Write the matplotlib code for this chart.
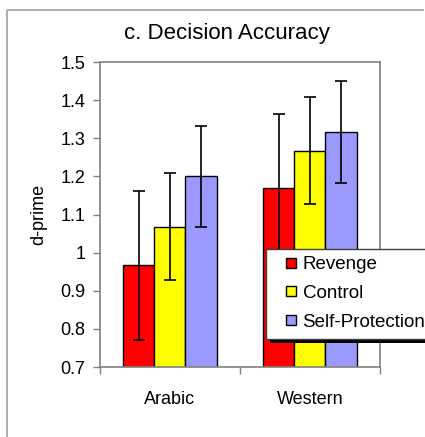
import matplotlib
matplotlib.use("Agg")
import matplotlib.pyplot as plt
from matplotlib.patches import Rectangle
from matplotlib.lines import Line2D
from matplotlib.legend_handler import HandlerPatch
import numpy as np

plt.rcParams['font.family'] = ['Liberation Sans', 'DejaVu Sans']

# data
groups = ["Arabic", "Western"]
conditions = ["Revenge", "Control", "Self-Protection"]
colors = ["#FF0000", "#FFFF00", "#9999FF"]
arabic = [0.967, 1.068, 1.200]
western = [1.170, 1.268, 1.317]
arabic_err = [0.195, 0.140, 0.133]
western_err = [0.195, 0.140, 0.133]

means = np.array([arabic, western])  # rows: groups, cols: conditions
errs = np.array([arabic_err, western_err])

W, H = 425, 437
fig = plt.figure(figsize=(W / 100, H / 100), dpi=100)
ax = fig.add_axes([0.235, 0.160, 0.659, 0.698])


def fline(xs, ys, **kw):
    # line in pixel coordinates of the figure (y measured from the top)
    fig.add_artist(Line2D([v / W for v in xs], [1 - v / H for v in ys],
                          transform=fig.transFigure, solid_capstyle="butt", **kw))


# outer chart frame, only left and top edges show inside the image
fline([7, 7], [437, 10], color="#A0A0A0", linewidth=1.2, zorder=0)
fline([7, 424], [10, 10], color="#A0A0A0", linewidth=1.2, zorder=0)

x = np.arange(len(groups))
w = 0.222
for i, cond in enumerate(conditions):
    pos = x + (i - 1) * w
    ax.bar(pos, means[:, i], w, bottom=0, color=colors[i],
           edgecolor="black", linewidth=1.0, label=cond, zorder=2)
    ax.errorbar(pos, means[:, i], yerr=errs[:, i], fmt="none",
                ecolor="black", elinewidth=1.2, capsize=4, capthick=1.2,
                zorder=3)

ax.set_ylim(0.7, 1.5)
ax.set_xlim(-0.5, 1.5)
ax.set_yticks(np.arange(0.7, 1.51, 0.1))
ax.set_yticklabels(["0.7", "0.8", "0.9", "1", "1.1", "1.2", "1.3", "1.4", "1.5"])
ax.tick_params(axis="y", labelsize=13, length=5, width=1, color="#808080",
               pad=5.5, direction="out")

# Excel-style category axis: ticks between categories, labels in the middle
ax.set_xticks([-0.5, 0.5, 1.5])
ax.set_xticklabels([])
ax.set_xticks(x, minor=True)
ax.set_xticklabels(groups, minor=True)
ax.tick_params(axis="x", which="major", length=5, width=1, color="#808080")
ax.tick_params(axis="x", which="minor", length=0, labelsize=13, pad=17)

for s in ax.spines.values():
    s.set_color("#808080")
    s.set_linewidth(1.2)

ax.set_ylabel("d-prime", fontsize=13, labelpad=9.5)

fig.text(0.535, 1 - 33 / H, "c. Decision Accuracy", fontsize=16,
         ha="center", va="center")

# legend box drawn by hand so nothing runs past the image edge:
# black drop shadow, white box, dark edge on left/top/bottom
fig.patches.append(Rectangle((270 / W, 1 - 343 / H), 1 - 270 / W, 90 / H,
                             transform=fig.transFigure, facecolor="black",
                             edgecolor="none", zorder=9))
fig.patches.append(Rectangle((266 / W, 1 - 339 / H), 1 - 266 / W, 90 / H,
                             transform=fig.transFigure, facecolor="white",
                             edgecolor="none", zorder=9.1))
fline([425, 266, 266, 425], [249, 249, 339, 339], color="#404040",
      linewidth=1.0, zorder=9.2)


def small_square(legend, orig_handle, xdescent, ydescent, width, height, fontsize):
    s = 7.2  # square side in points
    return Rectangle((width - s - xdescent, (height - s) / 2 - ydescent), s, s)


proxies = [Rectangle((0, 0), 1, 1, facecolor=c, edgecolor="black", linewidth=1.0)
           for c in colors]
leg = fig.legend(handles=proxies, labels=conditions, loc="upper left",
                 bbox_to_anchor=(266 / W, 1 - 249 / H), fontsize=13.5,
                 frameon=False,
                 handler_map={Rectangle: HandlerPatch(patch_func=small_square)},
                 handlelength=1.2, handleheight=0.7, handletextpad=0.37,
                 labelspacing=0.62, borderpad=0.38, borderaxespad=0)
leg.set_zorder(10)

fig.savefig("out.png", dpi=100)
